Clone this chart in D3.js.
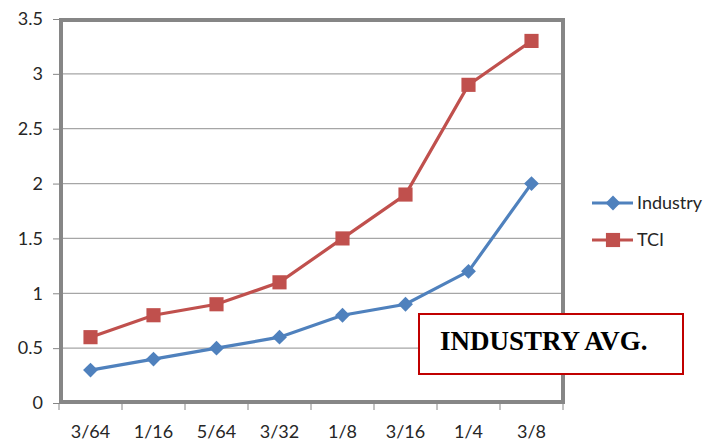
<!DOCTYPE html>
<html>
<head>
<meta charset="utf-8">
<script src="https://cdn.jsdelivr.net/npm/d3@7"></script>
<style>
  body { margin: 0; background: #fff; }
  svg { display: block; }
</style>
</head>
<body>
<div id="chart"></div>
<script>
const categories = ["3/64", "1/16", "5/64", "3/32", "1/8", "3/16", "1/4", "3/8"];
const industry = [0.3, 0.4, 0.5, 0.6, 0.8, 0.9, 1.2, 2.0];
const tci = [0.6, 0.8, 0.9, 1.1, 1.5, 1.9, 2.9, 3.3];
const yTicks = [0, 0.5, 1, 1.5, 2, 2.5, 3, 3.5];
const seriesNames = ["Industry", "TCI"];

const width = 719, height = 441;
const font = "Lato, 'Open Sans', sans-serif";

const svg = d3.select("#chart").append("svg")
    .attr("width", width)
    .attr("height", height);

const x = d3.scaleBand().domain(categories).range([59, 563]);
const y = d3.scaleLinear().domain([0, 3.5]).range([403, 19]);

// gridlines
svg.append("g")
    .selectAll("line")
    .data(yTicks.slice(1, -1))
    .join("line")
        .attr("x1", 59).attr("x2", 563)
        .attr("y1", d => y(d)).attr("y2", d => y(d))
        .attr("stroke", "#a6a6a6")
        .attr("stroke-width", 1.2);

// y axis ticks + labels
const yAxis = svg.append("g")
    .attr("transform", "translate(59,0)")
    .call(d3.axisLeft(y).tickValues(yTicks).tickSize(6).tickPadding(10).tickFormat(d => d));
yAxis.select(".domain").remove();
yAxis.selectAll("line").attr("stroke", "#868686");
yAxis.selectAll("text")
    .attr("font-family", font)
    .attr("font-size", 18)
    .attr("fill", "#262626");

// x axis ticks + labels
const xAxis = svg.append("g")
    .attr("transform", "translate(0,403)");
xAxis.selectAll("line")
    .data(categories.concat(["end"]))
    .join("line")
        .attr("x1", (d, i) => i < categories.length ? x(d) : x.range()[1])
        .attr("x2", (d, i) => i < categories.length ? x(d) : x.range()[1])
        .attr("y1", 0).attr("y2", 7)
        .attr("stroke", "#868686");
xAxis.selectAll("text")
    .data(categories)
    .join("text")
        .attr("x", d => x(d) + x.bandwidth() / 2)
        .attr("y", 35)
        .attr("text-anchor", "middle")
        .attr("font-family", font)
        .attr("font-size", 18)
        .attr("fill", "#262626")
        .text(d => d);

// plot frame
svg.append("rect")
    .attr("x", 61).attr("y", 20)
    .attr("width", 502).attr("height", 382)
    .attr("fill", "none")
    .attr("stroke", "#868686")
    .attr("stroke-width", 4);

const line = d3.line()
    .x((d, i) => x(categories[i]) + x.bandwidth() / 2)
    .y(d => y(d));

const colors = ["#4f81bd", "#c0504d"];
const sizes = [110, 200];
const rotations = [45, 0];
const marker = k => d3.symbol().type(d3.symbolSquare).size(sizes[k])();

[industry, tci].forEach((vals, k) => {
    svg.append("path")
        .datum(vals)
        .attr("d", line)
        .attr("fill", "none")
        .attr("stroke", colors[k])
        .attr("stroke-width", 3.2);
    svg.append("g")
        .selectAll("path")
        .data(vals)
        .join("path")
            .attr("transform", (d, i) => `translate(${x(categories[i]) + x.bandwidth() / 2},${y(d)}) rotate(${rotations[k]})`)
            .attr("d", marker(k))
            .attr("fill", colors[k]);
});

// legend
const legend = svg.append("g")
    .selectAll("g")
    .data(seriesNames)
    .join("g")
        .attr("transform", (d, i) => `translate(592,${203 + i * 37})`);
legend.append("line")
    .attr("x1", 0).attr("x2", 41)
    .attr("stroke", (d, i) => colors[i])
    .attr("stroke-width", 3.2);
legend.append("path")
    .attr("transform", (d, i) => `translate(21,0) rotate(${rotations[i]})`)
    .attr("d", (d, i) => marker(i))
    .attr("fill", (d, i) => colors[i]);
legend.append("text")
    .attr("x", 45)
    .attr("dy", "0.35em")
    .attr("font-family", font)
    .attr("font-size", 18)
    .attr("fill", "#262626")
    .text(d => d);

// annotation box
svg.append("rect")
    .attr("x", 419).attr("y", 314)
    .attr("width", 264).attr("height", 60)
    .attr("fill", "#fff")
    .attr("stroke", "#c00000")
    .attr("stroke-width", 2);
svg.append("text")
    .attr("x", 440).attr("y", 350)
    .attr("font-family", "'Liberation Serif', 'Times New Roman', serif")
    .attr("font-weight", "bold")
    .attr("font-size", 27)
    .attr("fill", "#000")
    .text("INDUSTRY AVG.");
</script>
</body>
</html>
